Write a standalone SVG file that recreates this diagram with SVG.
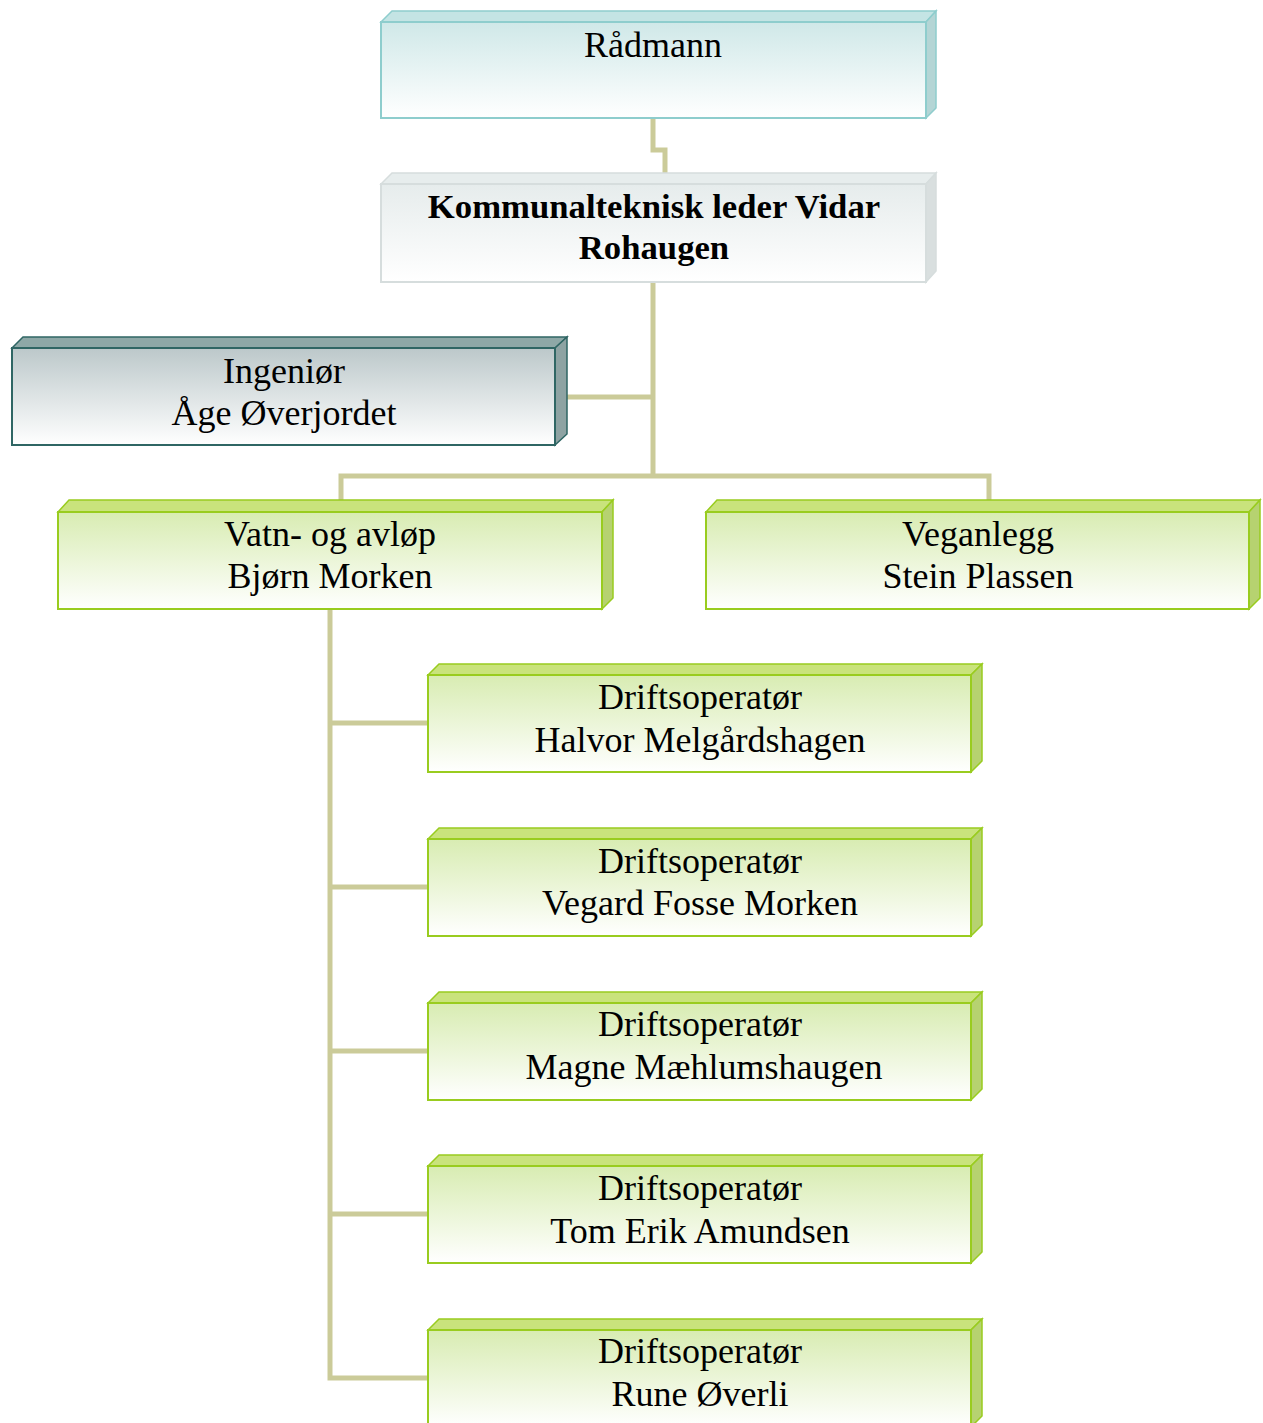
<svg xmlns="http://www.w3.org/2000/svg" width="1263" height="1423" viewBox="0 0 1263 1423">
<defs>
<linearGradient id="gTeal" x1="0" y1="0" x2="0" y2="1"><stop offset="0" stop-color="#cfe8e8"/><stop offset="1" stop-color="#ffffff"/></linearGradient>
<linearGradient id="gGray" x1="0" y1="0" x2="0" y2="1"><stop offset="0" stop-color="#e6ecec"/><stop offset="1" stop-color="#ffffff"/></linearGradient>
<linearGradient id="gDark" x1="0" y1="0" x2="0" y2="1"><stop offset="0" stop-color="#bcc8ca"/><stop offset="1" stop-color="#ffffff"/></linearGradient>
<linearGradient id="gGreen" x1="0" y1="0" x2="0" y2="1"><stop offset="0" stop-color="#d8ecb2"/><stop offset="1" stop-color="#ffffff"/></linearGradient>
</defs>
<style>
.t{font-family:"Liberation Serif","Times New Roman",serif;font-size:36px;fill:#000;text-anchor:middle}
.b{font-weight:bold;font-size:34.7px}
.conn{fill:none;stroke:#cbcb99;stroke-width:5}
.teal .f{fill:url(#gTeal);stroke:#8ecdcd;stroke-width:2}
.teal .top{fill:#c4e4e4;stroke:#8ecdcd;stroke-width:1.5}
.teal .side{fill:#b4d5d5;stroke:#8ecdcd;stroke-width:1.5}
.gray .f{fill:url(#gGray);stroke:#d6dddd;stroke-width:2}
.gray .top{fill:#e7eded;stroke:#d6dddd;stroke-width:1.5}
.gray .side{fill:#d9dfdf;stroke:#d6dddd;stroke-width:1.5}
.dark .f{fill:url(#gDark);stroke:#2f6664;stroke-width:2}
.dark .top{fill:#8ea8a7;stroke:#2f6664;stroke-width:1.5}
.dark .side{fill:#8ea3a3;stroke:#2f6664;stroke-width:1.5}
.green .f{fill:url(#gGreen);stroke:#99cc1f;stroke-width:2}
.green .top{fill:#c9e37c;stroke:#99cc1f;stroke-width:1.5}
.green .side{fill:#b6d270;stroke:#99cc1f;stroke-width:1.5}
</style>
<g id="connectors">
<path class="conn" d="M653 118 V150 H665 V173"/>
<path class="conn" d="M653 282 V476"/>
<path class="conn" d="M567 397 H653"/>
<path class="conn" d="M341 500 V476 H989 V500"/>
<path class="conn" d="M330 609 V1378 H428"/>
<path class="conn" d="M330 723 H428 M330 887 H428 M330 1051 H428 M330 1214 H428"/>
</g>
<g id="n-radmann" class="teal">
<path class="top" d="M381 22 L392 11 H936 L926 22 Z"/>
<path class="side" d="M926 22 L936 11 V108 L926 118 Z"/>
<rect class="f" x="381" y="22" width="545" height="96"/>
<text class="t" x="653" y="57">Rådmann</text>
</g>
<g id="n-kommunal" class="gray">
<path class="top" d="M381 184 L392 173 H936 L926 184 Z"/>
<path class="side" d="M926 184 L936 173 V271 L926 282 Z"/>
<rect class="f" x="381" y="184" width="545" height="98"/>
<text class="t b" x="654" y="218">Kommunalteknisk leder Vidar</text>
<text class="t b" x="654" y="259">Rohaugen</text>
</g>
<g id="n-ingenior" class="dark">
<path class="top" d="M12 348 L23 337 H567 L555 348 Z"/>
<path class="side" d="M555 348 L567 337 V434 L555 445 Z"/>
<rect class="f" x="12" y="348" width="543" height="97"/>
<text class="t" x="284" y="383">Ingeniør</text>
<text class="t" x="284" y="425">Åge Øverjordet</text>
</g>
<g id="n-vatn" class="green">
<path class="top" d="M58 512 L69 500 H613 L602 512 Z"/>
<path class="side" d="M602 512 L613 500 V598 L602 609 Z"/>
<rect class="f" x="58" y="512" width="544" height="97"/>
<text class="t" x="330" y="546">Vatn- og avløp</text>
<text class="t" x="330" y="588">Bjørn Morken</text>
</g>
<g id="n-veganlegg" class="green">
<path class="top" d="M706 512 L717 500 H1260 L1249 512 Z"/>
<path class="side" d="M1249 512 L1260 500 V598 L1249 609 Z"/>
<rect class="f" x="706" y="512" width="543" height="97"/>
<text class="t" x="978" y="546">Veganlegg</text>
<text class="t" x="978" y="588">Stein Plassen</text>
</g>
<g id="n-halvor" class="green">
<path class="top" d="M428 675 L439 664 H982 L971 675 Z"/>
<path class="side" d="M971 675 L982 664 V761 L971 772 Z"/>
<rect class="f" x="428" y="675" width="543" height="97"/>
<text class="t" x="700" y="709">Driftsoperatør</text>
<text class="t" x="700" y="752">Halvor Melgårdshagen</text>
</g>
<g id="n-vegard" class="green">
<path class="top" d="M428 839 L439 828 H982 L971 839 Z"/>
<path class="side" d="M971 839 L982 828 V925 L971 936 Z"/>
<rect class="f" x="428" y="839" width="543" height="97"/>
<text class="t" x="700" y="873">Driftsoperatør</text>
<text class="t" x="700" y="915">Vegard Fosse Morken</text>
</g>
<g id="n-magne" class="green">
<path class="top" d="M428 1003 L439 992 H982 L971 1003 Z"/>
<path class="side" d="M971 1003 L982 992 V1089 L971 1100 Z"/>
<rect class="f" x="428" y="1003" width="543" height="97"/>
<text class="t" x="700" y="1036">Driftsoperatør</text>
<text class="t" x="704" y="1079">Magne Mæhlumshaugen</text>
</g>
<g id="n-tom" class="green">
<path class="top" d="M428 1166 L439 1155 H982 L971 1166 Z"/>
<path class="side" d="M971 1166 L982 1155 V1252 L971 1263 Z"/>
<rect class="f" x="428" y="1166" width="543" height="97"/>
<text class="t" x="700" y="1200">Driftsoperatør</text>
<text class="t" x="700" y="1243">Tom Erik Amundsen</text>
</g>
<g id="n-rune" class="green">
<path class="top" d="M428 1330 L439 1319 H982 L971 1330 Z"/>
<path class="side" d="M971 1330 L982 1319 V1416 L971 1427 Z"/>
<rect class="f" x="428" y="1330" width="543" height="97"/>
<text class="t" x="700" y="1363">Driftsoperatør</text>
<text class="t" x="700" y="1406">Rune Øverli</text>
</g>
</svg>
